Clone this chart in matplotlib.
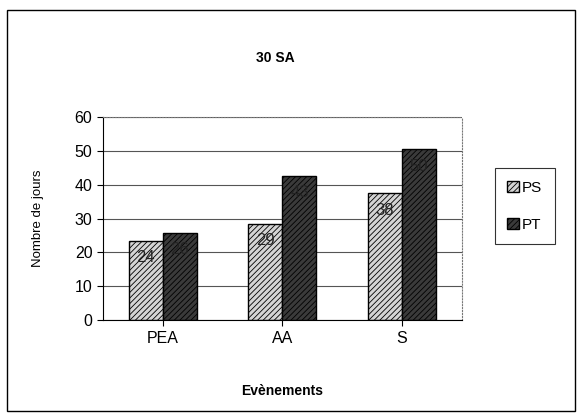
import matplotlib.pyplot as plt
import numpy as np
from matplotlib.patches import Rectangle

plt.rcParams['font.family'] = ['Liberation Sans', 'DejaVu Sans']
plt.rcParams['hatch.linewidth'] = 0.6

categories = ["PEA", "AA", "S"]
ps_values = [23.5, 28.5, 37.5]
pt_values = [25.8, 42.6, 50.4]
ps_labels = ["24", "29", "38"]
pt_labels = ["26", "43", "50"]

fig = plt.figure(figsize=(5.81, 4.19), dpi=100)
ax = fig.add_axes([0.177, 0.236, 0.618, 0.485])

x = np.arange(len(categories))
w = 0.285
b1 = ax.bar(x - w / 2, ps_values, w, color="#d4d4d4", edgecolor="black",
            hatch="//////", linewidth=1.0, label="PS")
b2 = ax.bar(x + w / 2, pt_values, w, color="#3a3a3a", edgecolor="black",
            hatch="//////", linewidth=1.0, label="PT")
for bars, labs in ((b1, ps_labels), (b2, pt_labels)):
    for rect, lab in zip(bars, labs):
        ax.text(rect.get_x() + rect.get_width() / 2, rect.get_height() - 5, lab,
                ha="center", va="center", fontsize=12, color="#222222")

ax.set_xlim(-0.5, 2.5)
ax.set_ylim(0, 60)
ax.set_yticks(range(0, 61, 10))
ax.set_xticks(x)
ax.set_xticklabels(categories)
ax.tick_params(labelsize=11.5, length=4)
ax.set_axisbelow(True)
ax.yaxis.grid(True, color="#555555", linewidth=0.8)
for side in ("top", "right"):
    ax.spines[side].set_linestyle(":")
    ax.spines[side].set_color("#777777")
ax.set_xlabel("Evènements", fontsize=10, fontweight="bold", labelpad=28)
ax.set_ylabel("Nombre de jours", fontsize=9.5, labelpad=22)
fig.text(0.474, 0.862, "30 SA", ha="center", va="center", fontsize=10, fontweight="bold")

leg = ax.legend(loc="center left", bbox_to_anchor=(1.07, 0.56), fontsize=11,
                frameon=True, fancybox=False, edgecolor="black",
                handlelength=0.8, handleheight=0.8, borderpad=0.8, labelspacing=1.5,
                handletextpad=0.2)
leg.get_frame().set_linewidth(0.8)

fig.patches.append(Rectangle((0.012, 0.02), 0.978, 0.955, transform=fig.transFigure,
                             fill=False, edgecolor="black", linewidth=1.0))

fig.savefig("out.png", dpi=100)
